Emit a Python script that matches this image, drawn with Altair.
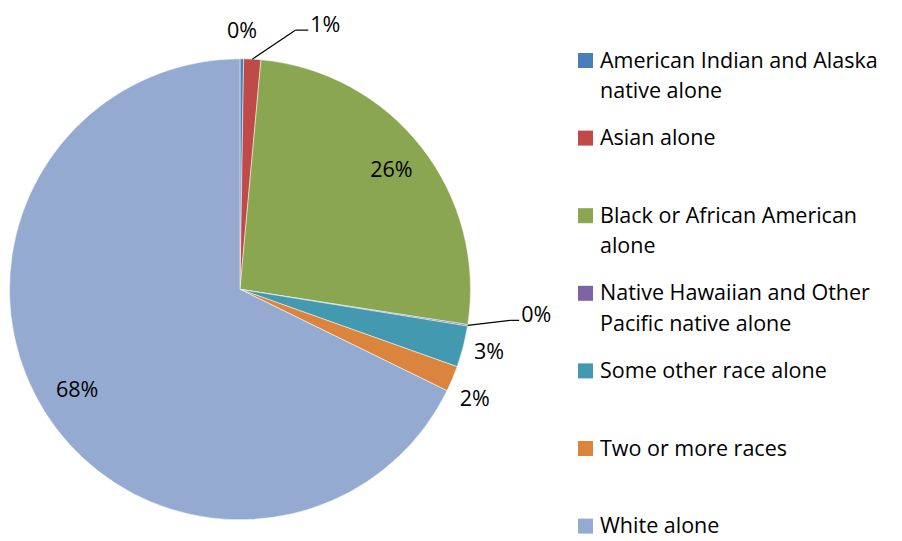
import altair as alt
import pandas as pd

# ---- data ----
races = [
    "American Indian and Alaska native alone",
    "Asian alone",
    "Black or African American alone",
    "Native Hawaiian and Other Pacific native alone",
    "Some other race alone",
    "Two or more races",
    "White alone",
]
legend_text = [
    "American Indian and Alaska\nnative alone",
    "Asian alone",
    "Black or African American\nalone",
    "Native Hawaiian and Other\nPacific native alone",
    "Some other race alone",
    "Two or more races",
    "White alone",
]
shares = [0.25, 1.2, 26.0, 0.1, 2.9, 1.8, 67.75]
colors = ["#4A7EBB", "#BE4B48", "#8AA650", "#7E62A1", "#4299B0", "#DB843D", "#94AAD0"]

df = pd.DataFrame({"race": races, "legend": legend_text, "share": shares, "idx": list(range(len(races)))})

# ---- layout (chart pixel space) ----
CX, CY, R = 232, 281.3, 230.5
FONT = "Open Sans"
FS = 21.5
color_scale = alt.Scale(domain=races, range=colors)

base = (
    alt.Chart(df)
    .transform_window(cum="sum(share)", sort=[alt.SortField("idx")])
    .transform_joinaggregate(total="sum(share)")
    .transform_calculate(
        ang="2*PI*(datum.cum - datum.share/2)/datum.total",
        pct="format(datum.share, '.0f') + '%'",
    )
    .transform_calculate(
        ex=f"{CX} + {R}*sin(datum.ang)",
        ey=f"{CY} - {R}*cos(datum.ang)",
    )
)

def X(f):
    return alt.X(f"{f}:Q", scale=None, axis=None)

def Y(f):
    return alt.Y(f"{f}:Q", scale=None, axis=None)

pie = alt.Chart(df).mark_arc(radius=R, stroke="white", strokeWidth=0.5).encode(
    theta=alt.Theta("share:Q", stack=True),
    color=alt.Color("race:N", scale=color_scale, legend=None),
    order=alt.Order("idx:Q"),
    x=alt.value(CX),
    y=alt.value(CY),
)

def radial_labels(names, rad, dx=0, dy=0):
    return (
        base.transform_filter(alt.FieldOneOfPredicate(field="race", oneOf=names))
        .transform_calculate(
            lx=f"{CX} + {rad}*sin(datum.ang)",
            ly=f"{CY} - {rad}*cos(datum.ang)",
        )
        .mark_text(font=FONT, fontSize=FS, align="center", baseline="middle", color="black", dx=dx, dy=dy)
        .encode(x=X("lx"), y=Y("ly"), text="pct:N")
    )

inside = radial_labels([races[2], races[6]], 192)
outside = radial_labels([races[0], races[4]], 257)
outside2 = radial_labels([races[5]], 258, dx=-3, dy=10)

def callout(name, kdx, kdy, hlen):
    d = base.transform_filter(alt.datum.race == name).transform_calculate(
        kx=f"datum.ex + {kdx}", ky=f"datum.ey + {kdy}"
    ).transform_calculate(hx=f"datum.kx + {hlen}")
    r1 = d.mark_rule(color="black", strokeWidth=1.2).encode(
        x=X("ex"), y=Y("ey"), x2=alt.X2("kx:Q"), y2=alt.Y2("ky:Q")
    )
    r2 = d.mark_rule(color="black", strokeWidth=1.2).encode(
        x=X("kx"), y=Y("ky"), x2=alt.X2("hx:Q"), y2=alt.Y2("ky:Q")
    )
    t = d.mark_text(font=FONT, fontSize=FS, align="left", baseline="alphabetic", color="black", dx=2, dy=1.5).encode(
        x=X("hx"), y=Y("ky"), text="pct:N"
    )
    return [r1, r2, t]

leg = base.transform_calculate(ly="52.5 + datum.idx*77.6")
squares = leg.mark_square(size=225, filled=True, opacity=1).encode(
    x=alt.value(577.5),
    y=Y("ly"),
    color=alt.Color("race:N", scale=color_scale, legend=None),
)
leg_text = leg.mark_text(
    font=FONT, fontSize=FS, align="left", baseline="alphabetic", lineBreak="\n",
    lineHeight=30.6, dy=7, color="black",
).encode(x=alt.value(592), y=Y("ly"), text="legend:N")

layers = [pie, inside, outside, outside2]
layers += callout(races[1], 43, -29, 13)
layers += callout(races[3], 42.5, -5, 9)
layers += [squares, leg_text]

chart = (
    alt.layer(*layers)
    .properties(width=886, height=533, padding=0, autosize="none", background="white")
    .configure_view(stroke=None)
)

chart.save("out.html", embed_options={"renderer": "svg", "actions": False})
